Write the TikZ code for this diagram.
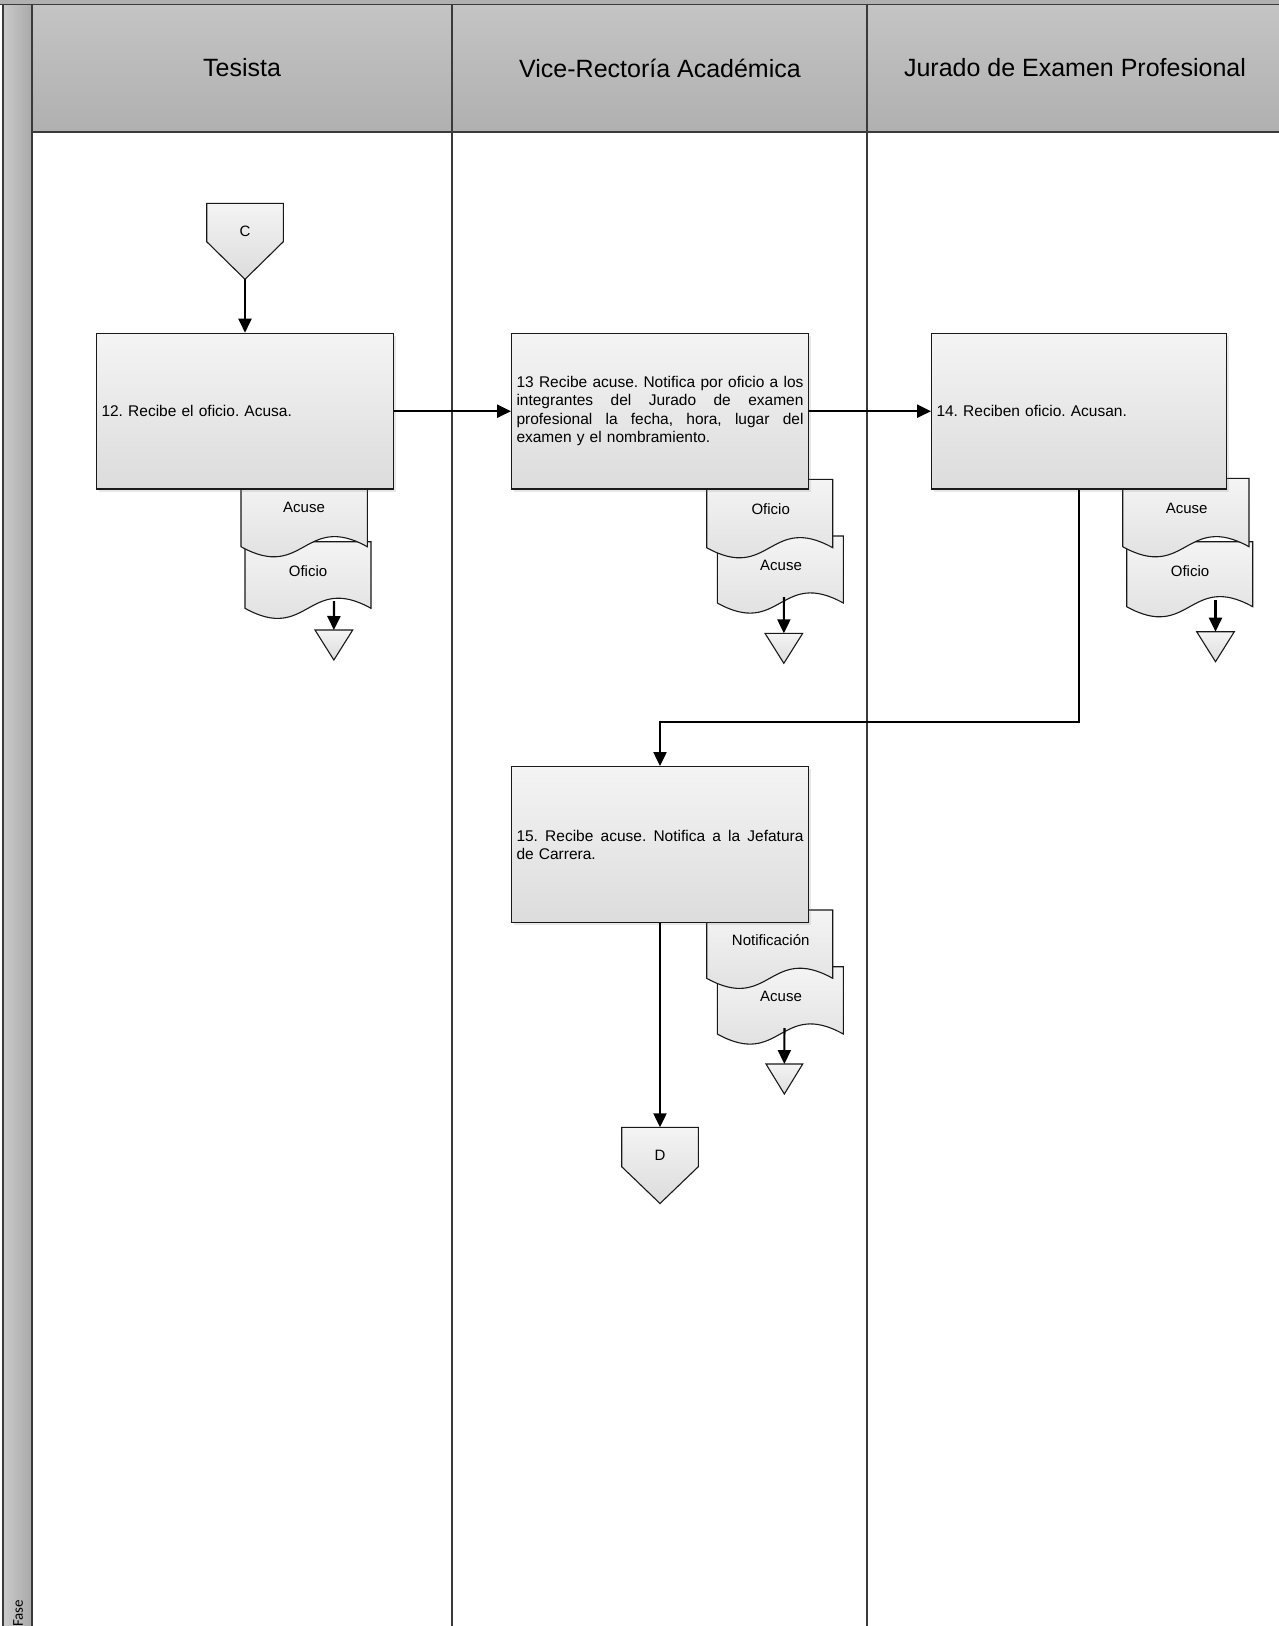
\documentclass[tikz,border=0pt]{standalone}
\usepackage{fontspec}
\setmainfont{Liberation Sans}
\newfontfamily\fasefont{Carlito}
\usetikzlibrary{arrows.meta,shadows}
\definecolor{hdtop}{HTML}{C4C4C4}
\definecolor{hdbot}{HTML}{B0B0B0}
\definecolor{phl}{HTML}{CACACA}
\definecolor{phr}{HTML}{A9A9A9}
\definecolor{bxtop}{HTML}{F4F4F4}
\definecolor{bxbot}{HTML}{DCDCDC}
\definecolor{lanecol}{HTML}{3A3A3A}
\tikzset{
  flow/.style={line width=2.2pt, draw=black, -{Triangle[length=14pt,width=13pt]}},
  procbox/.style={draw=black!90, line width=1.3pt, top color=bxtop, bottom color=bxbot,
    minimum width=296.6pt, minimum height=155.7pt, text width=287pt, inner xsep=4.8pt,
    inner ysep=0pt, align=left, font=\fontsize{15.5}{18.5}\selectfont\frenchspacing,
    drop shadow={opacity=0.18, shadow xshift=2.5pt, shadow yshift=-2.5pt}},
  docshape/.style={draw=black!90, line width=1.1pt, top color=bxtop, bottom color=bxbot},
  lbl/.style={font=\fontsize{15}{18}\selectfont, inner sep=0pt},
  hdr/.style={font=\fontsize{25}{30}\selectfont, inner sep=0pt},
  lane/.style={draw=lanecol, line width=1.3pt}
}
\newcommand\jline[1]{\leavevmode\hbox to 287pt{#1}}
% L R T B labelx labely text name
\newcommand\mydoc[8]{%
  \path[docshape] (#1,#3) -- (#2,#3) -- (#2,#4)
    .. controls ({(#1+#2)/2},{#4-35}) and ({(#1+#2)/2},{#4+35}) .. (#1,#4) -- cycle;
  \node[lbl] (#8) at (#5,#6) {#7};}
% L R T name
\newcommand\mytri[4]{%
  \path[docshape] (#1,#3) -- (#2,#3) -- ({(#1+#2)/2},{#3+30}) -- cycle;
  \coordinate (#4) at ({(#1+#2)/2},#3);}
% L R T shoulder tipY name label
\newcommand\mypenta[7]{%
  \path[docshape] (#1,#3) -- (#2,#3) -- (#2,#4) -- ({(#1+#2)/2},#5) -- (#1,#4) -- cycle;
  \coordinate (#6top) at ({(#1+#2)/2},#3);
  \coordinate (#6tip) at ({(#1+#2)/2},#5);
  \node[lbl] (#6lbl) at ({(#1+#2)/2},{#3+28}) {#7};}
\begin{document}
\begin{tikzpicture}[x=1pt,y=-1pt]
\useasboundingbox (0,0) rectangle (1279,1626);
% pool background
\fill[white] (0,0) rectangle (1279,1626);
\fill[hdbot] (0,0) rectangle (1279,4.3);
% phase column
\path[left color=phl, right color=phr] (3,4.3) rectangle (32,1626);
% headers
\path[top color=hdtop, bottom color=hdbot] (32,4.3) rectangle (1279,132);
\draw[lane] (0,4.3) -- (1279,4.3);
\draw[lane] (32,132) -- (1279,132);
\draw[lane] (3,4.3) -- (3,1626);
\draw[lane] (32,4.3) -- (32,1626);
\draw[lane] (452,4.3) -- (452,1626);
\draw[lane] (867,4.3) -- (867,1626);
\node[hdr] (hT) at (242,68) {Tesista};
\node[hdr] (hV) at (660,68) {Vice-Rectoría Académica};
\node[hdr] (hJ) at (1075,68) {Jurado de Examen Profesional};
\node[font=\fasefont\fontsize{15}{18}\selectfont, rotate=90, anchor=west, inner sep=0pt] (fase) at (18,1627) {Fase};

% connectors C
\mypenta{206.7}{283.3}{203.3}{241.7}{279.3}{C}{C}

% documents under box 12
\mydoc{245}{371}{541.7}{608.3}{308}{570.7}{Oficio}{d12b}
\mydoc{241}{367.3}{480}{546.7}{304}{507.7}{Acuse}{d12a}
\mytri{315}{352.7}{630}{t12}
\coordinate (s12) at (334,601);
\draw[flow] (s12) -- (t12);

% documents under box 13
\mydoc{717.3}{843.3}{536}{603}{781}{565}{Acuse}{d13b}
\mydoc{706.7}{832.7}{479.3}{547.7}{770.7}{509}{Oficio}{d13a}
\mytri{765}{802.7}{633.3}{t13}
\coordinate (s13) at (783.9,597);
\draw[flow] (s13) -- (t13);

% documents under box 14
\mydoc{1126.7}{1252.7}{541.7}{606.7}{1190}{570.7}{Oficio}{d14b}
\mydoc{1122.7}{1249}{478.3}{546.7}{1186.7}{508.3}{Acuse}{d14a}
\mytri{1196.7}{1234.3}{631.7}{t14}
\coordinate (s14) at (1215.5,600);
\draw[flow] (s14) -- (t14);

% documents under box 15
\mydoc{717.3}{843.3}{966.7}{1034}{781}{996.7}{Acuse}{d15b}
\mydoc{706.7}{832.7}{910}{978.3}{770.7}{940}{Notificación}{d15a}
\mytri{766}{802.7}{1064}{t15}
\coordinate (s15) at (784.4,1028);
\draw[flow] (s15) -- (t15);

% process boxes
\node[procbox] (b12) at (245,411.2) {12. Recibe el oficio. Acusa.};
\node[procbox] (b13) at (660,411.2) {\jline{13\hfill Recibe\hfill acuse.\hfill Notifica\hfill por\hfill oficio\hfill a\hfill los}\\
\jline{integrantes\hfill del\hfill Jurado\hfill de\hfill examen}\\
\jline{profesional\hfill la\hfill fecha,\hfill hora,\hfill lugar\hfill del}\\
examen y el nombramiento.};
\node[procbox, minimum width=295pt, text width=285.4pt] (b14) at (1079.2,411.2) {\raisebox{-4pt}{14. Reciben oficio. Acusan.}};
\node[procbox, minimum height=156pt] (b15) at (660,844.7) {\jline{15.\hfill Recibe\hfill acuse.\hfill Notifica\hfill a\hfill la\hfill Jefatura}\\
de Carrera.};

% connector D
\mypenta{621.7}{698.3}{1127.3}{1166.7}{1203.5}{D}{D}

% flows
\draw[flow] (Ctip) -- (b12.north);
\draw[flow] (b12.east) -- (b13.west);
\draw[flow] (b13.east) -- (b14.west);
\coordinate (bend) at (1079.2,722);
\draw[flow] (b14.south) -- (bend) -| (b15.north);
\draw[flow] (b15.south) -- (Dtop);
\end{tikzpicture}
\end{document}
